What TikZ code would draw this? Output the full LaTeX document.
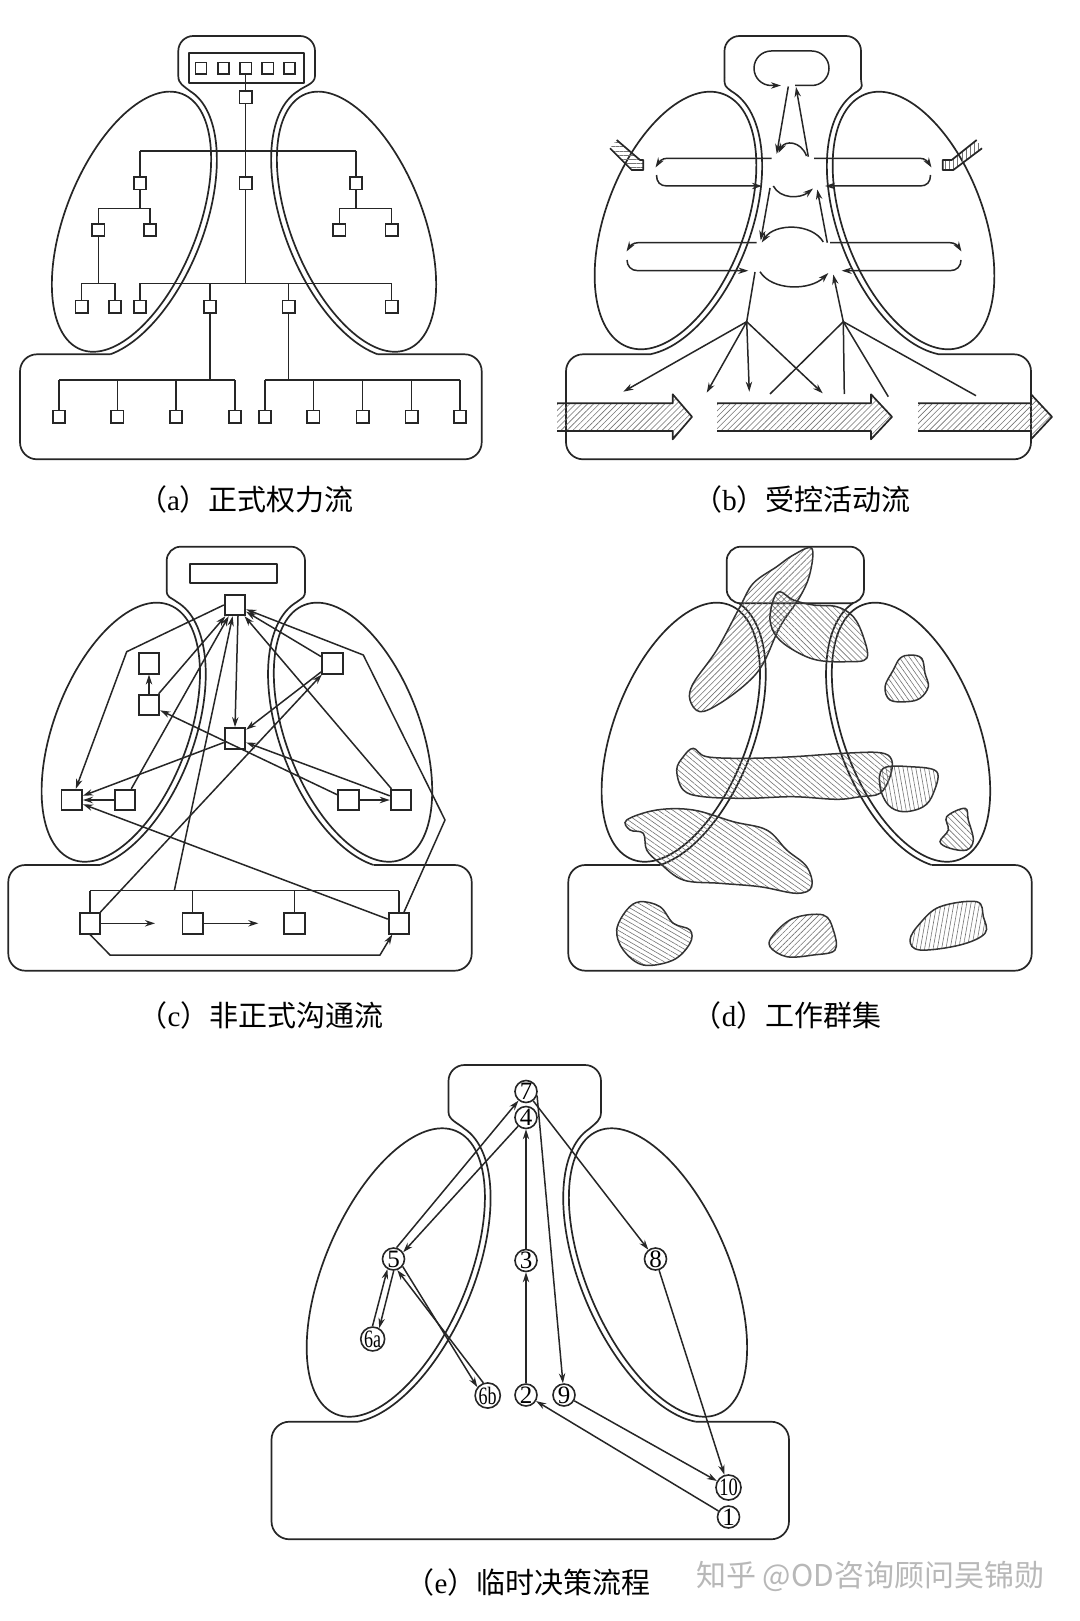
\documentclass[tikz,border=0pt]{standalone}
\usepackage{fontspec}
\setmainfont{Liberation Serif}
\newfontfamily\cjk{Noto Sans CJK SC}
\usetikzlibrary{arrows.meta,patterns.meta,calc}

\newcommand\Frame[1]{%
  \pgfmathsetmacro\FA{\FeA+6}%
  \pgfmathsetmacro\FB{\FeB+6}%
  \pgfmathsetmacro\FePR{180-\FeP}%
  \draw[outl, rotate around={\FeP:(\FeX,\FeY)}] (\FeX,\FeY) ellipse [x radius=\FeA, y radius=\FeB];
  \draw[outl, rotate around={\FePR:(\FeRX,\FeY)}] (\FeRX,\FeY) ellipse [x radius=\FeA, y radius=\FeB];
  \pgfmathsetmacro\Fsx{\FA*cos(\FtS)*cos(\FeP)-\FB*sin(\FtS)*sin(\FeP)}%
  \pgfmathsetmacro\Fsy{-\FA*cos(\FtS)*sin(\FeP)-\FB*sin(\FtS)*cos(\FeP)}%
  \pgfmathsetmacro\Ftb{\FtS-8}%
  \pgfmathsetmacro\Fbx{\FA*cos(\Ftb)*cos(\FeP)-\FB*sin(\Ftb)*sin(\FeP)}%
  \pgfmathsetmacro\Fby{-\FA*cos(\Ftb)*sin(\FeP)-\FB*sin(\Ftb)*cos(\FeP)}%
  \pgfmathsetmacro\Fcx{1.8*\Fsx-0.8*\Fbx}%
  \pgfmathsetmacro\Fcy{1.8*\Fsy-0.8*\Fby}%
  \pgfmathsetmacro\Fex{\FA*cos(\FtE)*cos(\FeP)-\FB*sin(\FtE)*sin(\FeP)}%
  \ifnum#1=0
    \draw[outl, rounded corners=\FhR] (\FhxA,\FhS) -- (\FhxA,\FhY) -- (\FhxB,\FhY) -- (\FhxB,\FhS);
    \draw[outl] (\FhxA,\FhS) .. controls (\FhxA,\FhS+8) and ({\FeX+(\Fcx)},{\FeY+(\Fcy)}) .. ({\FeX+(\Fsx)},{\FeY+(\Fsy)})
      -- plot[domain=\FtS:\FtE, samples=60, smooth, variable=\t] ({\FeX+\FA*cos(\t)*cos(\FeP)-\FB*sin(\t)*sin(\FeP)},{\FeY-\FA*cos(\t)*sin(\FeP)-\FB*sin(\t)*cos(\FeP)});
    \draw[outl] (\FhxB,\FhS) .. controls (\FhxB,\FhS+8) and ({\FeRX-(\Fcx)},{\FeY+(\Fcy)}) .. ({\FeRX-(\Fsx)},{\FeY+(\Fsy)})
      -- plot[domain=\FtS:\FtE, samples=60, smooth, variable=\t] ({\FeRX-\FA*cos(\t)*cos(\FeP)+\FB*sin(\t)*sin(\FeP)},{\FeY-\FA*cos(\t)*sin(\FeP)-\FB*sin(\t)*cos(\FeP)});
  \else
    \draw[outl, rounded corners=\FhR] (\FhxA,\FhY) rectangle (\FhxB,\FhS);
    \draw[outl] plot[domain=\FtS:\FtE, samples=60, smooth, variable=\t] ({\FeX+\FA*cos(\t)*cos(\FeP)-\FB*sin(\t)*sin(\FeP)},{\FeY-\FA*cos(\t)*sin(\FeP)-\FB*sin(\t)*cos(\FeP)});
    \draw[outl] plot[domain=\FtS:\FtE, samples=60, smooth, variable=\t] ({\FeRX-\FA*cos(\t)*cos(\FeP)+\FB*sin(\t)*sin(\FeP)},{\FeY-\FA*cos(\t)*sin(\FeP)-\FB*sin(\t)*cos(\FeP)});
  \fi
  \draw[outl, rounded corners=\FbR] ({\FeX+(\Fex)},\FbyA) -- (\FbxA,\FbyA) -- (\FbxA,\FbyB) -- (\FbxB,\FbyB) -- (\FbxB,\FbyA) -- ({\FeRX-(\Fex)},\FbyA);
}

\newcommand\HArrow[3]{%
  \fill[hatch=45] (#1,403.3) -- (#2,403.3) -- (#2,394.3) -- (#3,416.8) -- (#2,439.3) -- (#2,431) -- (#1,431) -- cycle;
  \draw[outl] (#1,403.3) -- (#2,403.3) -- (#2,394.3) -- (#3,416.8) -- (#2,439.3) -- (#2,431) -- (#1,431);
}

\begin{document}
\begin{tikzpicture}[x=0.5pt,y=-0.5pt,
  outl/.style={line width=0.85pt, line join=round, draw=black!85},
  conn/.style={line width=0.75pt, draw=black!85},
  arr/.style={conn, -{Stealth[length=5pt,width=3.2pt]}},
  sqa/.style={draw=black!85, fill=white, line width=0.8pt, minimum size=6.2pt, inner sep=0pt},
  sqc/.style={draw=black!85, fill=white, line width=0.9pt, minimum size=10.3pt, inner sep=0pt},
  circnode/.style={circle, draw=black!85, fill=white, line width=0.8pt, minimum size=11pt, inner sep=0pt, font=\fontsize{12.5}{12.5}\selectfont},
  captxt/.style={font=\fontsize{14.5}{16}\selectfont},
  hatch/.style={pattern={Lines[angle=#1, distance=2.1pt, line width=0.3pt]}, pattern color=black!55},
  blob/.style={line width=0.75pt, draw=black!80},
]
\useasboundingbox (0,0) rectangle (1080,1621);
\fill[white] (0,0) rectangle (1080,1621);

%================ (a) =================
\def\FhxA{178.3}\def\FhxB{315}\def\FhY{36}\def\FhS{76}\def\FhR{7.5pt}
\def\FbxA{20}\def\FbxB{481.7}\def\FbyA{354.3}\def\FbyB{459.3}\def\FbR{8.5pt}
\def\FeX{131.5}\def\FeY{221.7}\def\FeA{137.5}\def\FeB{66}\def\FeP{68.3}\def\FeRX{356.5}
\def\FtS{-5}\def\FtE{-156}
\Frame{0}
\draw[outl] (189,53.3) rectangle (304.3,83.3);
\foreach \i/\x in {1/201,2/223.3,3/245.7,4/267.7,5/289.3}
  \node[sqa, minimum size=5.6pt] (a\i) at (\x,68.3) {};
\node[sqa] (a0) at (245.7,97.3) {};
\node[sqa] (aL) at (140,183.3) {};
\node[sqa] (aC) at (245.7,183.3) {};
\node[sqa] (aR) at (356,183.3) {};
\node[sqa] (aL1) at (98.3,230) {};
\node[sqa] (aL2) at (150,230) {};
\node[sqa] (aR1) at (339.3,230) {};
\node[sqa] (aR2) at (391.7,230) {};
\node[sqa] (aLL1) at (81.7,306.7) {};
\node[sqa] (aLL2) at (115,306.7) {};
\node[sqa] (ab1) at (140,306.7) {};
\node[sqa] (ab2) at (210,306.7) {};
\node[sqa] (ab3) at (288.7,306.7) {};
\node[sqa] (ab4) at (391.7,306.7) {};
\foreach \i/\x in {1/59,2/117.3,3/176,4/235}
  \node[sqa] (ac\i) at (\x,416.7) {};
\foreach \i/\x in {1/265,2/313.3,3/362.7,4/411.7,5/460}
  \node[sqa] (ad\i) at (\x,416.7) {};
\coordinate (yU) at (0,151);
\coordinate (yM) at (0,208.3);
\coordinate (yL) at (0,283.3);
\coordinate (yB) at (0,380);
\draw[conn] (a3) -- (a0);
\draw[conn] (a0) -- (aC);
\draw[conn] (aC) -- (aC |- yL);
\draw[conn] (aL |- yU) -- (aR |- yU);
\draw[conn] (aL |- yU) -- (aL);
\draw[conn] (aR |- yU) -- (aR);
\draw[conn] (aL) -- (aL |- yM);
\draw[conn] (aL1 |- yM) -- (aL2 |- yM);
\draw[conn] (aL1 |- yM) -- (aL1);
\draw[conn] (aL2 |- yM) -- (aL2);
\draw[conn] (aR) -- (aR |- yM);
\draw[conn] (aR1 |- yM) -- (aR2 |- yM);
\draw[conn] (aR1 |- yM) -- (aR1);
\draw[conn] (aR2 |- yM) -- (aR2);
\draw[conn] (aL1) -- (aL1 |- yL);
\draw[conn] (aLL1 |- yL) -- (aLL2 |- yL);
\draw[conn] (aLL1 |- yL) -- (aLL1);
\draw[conn] (aLL2 |- yL) -- (aLL2);
\draw[conn] (ab1 |- yL) -- (ab4 |- yL);
\foreach \n in {ab1,ab2,ab3,ab4} \draw[conn] (\n |- yL) -- (\n);
\draw[conn] (ab2) -- (ab2 |- yB);
\draw[conn] (ac1 |- yB) -- (ac4 |- yB);
\foreach \n in {ac1,ac2,ac3,ac4} \draw[conn] (\n |- yB) -- (\n);
\draw[conn] (ab3) -- (ab3 |- yB);
\draw[conn] (ad1 |- yB) -- (ad5 |- yB);
\foreach \n in {ad1,ad2,ad3,ad4,ad5} \draw[conn] (\n |- yB) -- (\n);
\node[captxt] (capa) at (246,499) {{\cjk （}a{\cjk ）正式权力流}};

%================ (b) =================
\def\FhxA{724.5}\def\FhxB{861}\def\FhY{36}\def\FhS{78}\def\FhR{7.5pt}
\def\FbxA{566}\def\FbxB{1031}\def\FbyA{354.3}\def\FbyB{459.3}\def\FbR{8.5pt}
\def\FeX{675.5}\def\FeY{220.5}\def\FeA{135.2}\def\FeB{69.6}\def\FeP{69.2}\def\FeRX{913.5}
\def\FtS{-5}\def\FtE{-161}
\Frame{0}
% stadium loop
\draw[arr] (795,85.5) [rounded corners=8.6pt] -- (829,85.5) -- (829,51) -- (754,51) -- (754,85.5) [sharp corners] -- (781,85.5);
\draw[arr] (788.3,86.5) -- (776.7,154);
\draw[arr] (808.3,156.7) -- (796,87);
% upper level
\draw[arr] (806.5,156) .. controls (801,141) and (785,140) .. (778.5,153);
\draw[arr] (773.3,186) .. controls (780,199) and (800,199) .. (813,188.5);
\draw[arr] (770,188) -- (760.7,240.5);
\draw[arr] (827.3,242.7) -- (817.3,189.5);
\draw[arr] (771.7,158.3) -- (667,158.3) .. controls (662,158.3) and (659,162) .. (655.5,167.5);
\draw[arr] (656.5,175) .. controls (656.5,182) and (660,186) .. (667,186) -- (762,186);
\draw[arr] (814,158.3) -- (920,158.3) .. controls (925,158.3) and (928,162) .. (931.5,167.5);
\draw[arr] (930.5,175) .. controls (930.5,182) and (927,186) .. (920,186) -- (825,186);
% lower level
\draw[arr] (823.3,242) .. controls (812,223) and (775,223) .. (761.7,242.5);
\draw[arr] (760,271.7) .. controls (772,291) and (810,291) .. (828.3,273);
\draw[arr] (756.7,242.7) -- (638,242.7) .. controls (633,242.7) and (630,246) .. (626.5,251.5);
\draw[arr] (627,260) .. controls (627,266) and (631,270.7) .. (638,270.7) -- (748.3,270.7);
\draw[arr] (830,242.7) -- (950,242.7) .. controls (955,242.7) and (958,246) .. (961.5,251.5);
\draw[arr] (961,260) .. controls (961,266) and (957,270.7) .. (950,270.7) -- (841.7,270.7);
% fans
\coordinate (F1) at (746.7,321.7);
\coordinate (F2) at (843.3,321.7);
\draw[conn] (755,272) -- (F1);
\draw[arr] (F2) -- (833.3,274.5);
\draw[arr] (F1) -- (623.3,391.7);
\draw[arr] (F1) -- (706.7,392.7);
\draw[arr] (F1) -- (749.3,391.7);
\draw[arr] (F1) -- (822.7,393.3);
\draw[conn] (770,394) -- (F2);
\draw[conn] (844.3,394) -- (F2);
\draw[conn] (888.3,396.7) -- (F2);
\draw[conn] (976,395.7) -- (F2);
% hatched arrows
\HArrow{557}{672.7}{692}
\HArrow{717}{871}{892}
\HArrow{918}{1031}{1052}
% small hatched inputs
\fill[hatch=0] (610,148.3) -- (616.7,140) -- (640,160) -- (643.3,160) -- (643.3,170) -- (631.7,170) -- cycle;
\draw[outl] (616.7,140) -- (640,160) -- (643.3,160) -- (643.3,170) -- (631.7,170) -- (610,148.3);
\fill[hatch=90] (982,148.3) -- (976.7,140) -- (951.7,160) -- (942.7,160) -- (942.7,170) -- (953.3,170) -- cycle;
\draw[outl] (976.7,140) -- (951.7,160) -- (942.7,160) -- (942.7,170) -- (953.3,170) -- (982,148.3);
\node[captxt] (capb) at (802,499) {{\cjk （}b{\cjk ）受控活动流}};

%================ (c) =================
\def\FhxA{166.7}\def\FhxB{305}\def\FhY{546.7}\def\FhS{590}\def\FhR{7pt}
\def\FbxA{8.3}\def\FbxB{471.7}\def\FbyA{865}\def\FbyB{970.7}\def\FbR{8.5pt}
\def\FeX{120.8}\def\FeY{732.2}\def\FeA{136.2}\def\FeB{67.1}\def\FeP{69.2}\def\FeRX{353}
\def\FtS{-5}\def\FtE{-157.5}
\Frame{0}
\draw[outl] (190,564.3) rectangle (276.7,582.7);
\node[sqc] (cT) at (235,605) {};
\node[sqc] (cM) at (235,738.3) {};
\node[sqc] (cL1) at (149,663.3) {};
\node[sqc] (cL2) at (149,705) {};
\node[sqc] (cR1) at (332.3,663.3) {};
\node[sqc] (cLL1) at (71.7,800) {};
\node[sqc] (cLL2) at (125,800) {};
\node[sqc] (cRR1) at (348.3,800) {};
\node[sqc] (cRR2) at (401,800) {};
\node[sqc] (cB1) at (90,923.3) {};
\node[sqc] (cB2) at (192.7,923.3) {};
\node[sqc] (cB3) at (294.3,923.3) {};
\node[sqc] (cB4) at (399,923.3) {};
\coordinate (cy) at (0,890.7);
\coordinate (cbus) at (174.3,890.7);
\draw[conn] (cB1 |- cy) -- (cB4 |- cy);
\foreach \n in {cB1,cB2,cB3,cB4} \draw[conn] (\n |- cy) -- (\n);
\draw[arr] (cbus) -- (cT);
\draw[arr] (cT.west) -- (126.7,651.7) -- (cLL1);
\draw[arr] (cL2) -- (cT);
\draw[arr] (cLL2) -- (cT);
\draw[arr] (cT.-75) -- (cM.north);
\draw[arr] (cR1) -- (cT);
\draw[arr] (cRR2) -- (cT);
\draw[arr] (cB4) -- (445,820) -- (363.3,655) -- (cT);
\draw[arr] (cR1) -- (cM);
\draw[arr] (cM) -- (cLL1);
\draw[arr] (cLL2) -- (cLL1);
\draw[arr] (cRR1) -- (cRR2);
\draw[arr] (cL2) -- (cL1);
\draw[arr] (cRR2) -- (cM);
\draw[arr] (cRR1) -- (cL2);
\draw[arr] (cB1) -- (cR1);
\draw[arr] (cB4) -- (cLL1);
\coordinate (cq1) at (155,923.3);
\coordinate (cq2) at (258.3,923.3);
\draw[arr] (cB1) -- (cq1);
\draw[arr] (cB2) -- (cq2);
\draw[arr] (cB1.south) -- (110,955) -- (380,955) -- (cB4);
\node[captxt] (capc) at (261,1015) {{\cjk （}c{\cjk ）非正式沟通流}};

%================ (d) =================
\def\FhxA{726.7}\def\FhxB{864}\def\FhY{546.7}\def\FhS{603.3}\def\FhR{7pt}
\def\FbxA{568.3}\def\FbxB{1031.7}\def\FbyA{865}\def\FbyB{970.7}\def\FbR{8.5pt}
\def\FeX{680.8}\def\FeY{732.2}\def\FeA{136.2}\def\FeB{67.1}\def\FeP{69.2}\def\FeRX{911}
\def\FtS{-6.5}\def\FtE{-157.5}
\Frame{1}
\draw[blob, hatch=45] plot[smooth cycle, tension=0.6] coordinates {(811.7,548.3) (810,573.3) (800,596.7) (780,626.7) (763.3,663.3) (746.7,683.3) (720,703.3) (700,711.7) (690,700) (693.3,683.3) (716.7,650) (740,606.7) (753.3,583.3) (776.7,566.7) (793.3,555)};
\draw[blob, hatch=135] plot[smooth cycle, tension=0.6] coordinates {(780,591.7) (793.3,600) (813.3,605) (836.7,606.7) (853.3,616.7) (863.3,636.7) (866.7,658.3) (846.7,661.7) (816.7,660) (793.3,650) (776.7,636.7) (770,620) (773.3,600)};
\draw[blob, hatch=125] plot[smooth cycle, tension=0.6] coordinates {(910,655) (921.7,658.3) (925,673.3) (928.3,686.7) (920,698.3) (906.7,701.7) (890,700) (885,686.7) (893.3,670) (900,658.3)};
\draw[blob, hatch=140] plot[smooth cycle, tension=0.6] coordinates {(693.3,748.3) (706.7,756.7) (746.7,758.3) (793.3,756.7) (843.3,753.3) (880,752.7) (891.7,760) (890,776.7) (880,793.3) (860,796.7) (836.7,799.3) (793.3,796.7) (746.7,798.3) (703.3,796.7) (683.3,790) (676.7,770) (683.3,756.7)};
\draw[blob, hatch=100] plot[smooth cycle, tension=0.6] coordinates {(883.3,768.3) (910,766.7) (936.7,771.7) (933.3,793.3) (923.3,806.7) (903.3,811.7) (888.3,805) (880,786.7)};
\draw[blob, hatch=135] plot[smooth cycle, tension=0.6] coordinates {(965,808.3) (968.3,820) (973.3,840) (966.7,850) (950,848.3) (940,841.7) (948.3,830) (946.7,816.7)};
\draw[blob, hatch=145] plot[smooth cycle, tension=0.6] coordinates {(626.7,820) (656.7,810) (693.3,810) (733.3,821.7) (766.7,830) (786.7,850) (806.7,866.7) (811.7,886.7) (796.7,893.3) (760,886.7) (720,883.3) (683.3,880) (660,863.3) (646.7,850) (643.3,833.3) (630,830)};
\draw[blob, hatch=150] plot[smooth cycle, tension=0.6] coordinates {(640,901.7) (660,906.7) (673.3,923.3) (690,930) (690,943.3) (673.3,960) (643.3,965) (623.3,950) (616.7,930) (626.7,910)};
\draw[blob, hatch=45] plot[smooth cycle, tension=0.6] coordinates {(793.3,918.3) (823.3,915) (833.3,930) (835,950) (813.3,955) (786.7,956.7) (770,946.7) (773.3,935)};
\draw[blob, hatch=80] plot[smooth cycle, tension=0.6] coordinates {(940,906.7) (976.7,901.7) (983.3,916.7) (985,933.3) (960,945) (920,950) (910,940) (920,923.3)};
\node[captxt] (capd) at (787,1015) {{\cjk （}d{\cjk ）工作群集}};

%================ (e) =================
\def\FhxA{448.5}\def\FhxB{601}\def\FhY{1065}\def\FhS{1112}\def\FhR{8pt}
\def\FbxA{271.5}\def\FbxB{789}\def\FbyA{1421.7}\def\FbyB{1539.3}\def\FbR{9pt}
\def\FeX{395.8}\def\FeY{1272.5}\def\FeA{153.8}\def\FeB{71.3}\def\FeP{66.9}\def\FeRX{658}
\def\FtS{-5}\def\FtE{-162}
\Frame{0}
\node[circnode] (e7) at (526,1091.5) {7};
\node[circnode] (e4) at (526,1117.5) {4};
\node[circnode] (e5) at (393.5,1259) {5};
\node[circnode] (e3) at (526,1260.5) {3};
\node[circnode] (e8) at (655.5,1259) {8};
\node[circnode] (e6a) at (372.7,1339) {\scalebox{0.72}[1]{6a}};
\node[circnode] (e6b) at (487.7,1395.5) {\scalebox{0.72}[1]{6b}};
\node[circnode] (e2) at (526,1395) {2};
\node[circnode] (e9) at (564,1395) {9};
\node[circnode] (e10) at (728.5,1487.5) {\scalebox{0.74}[1]{10}};
\node[circnode] (e1) at (728.5,1517) {1};
\draw[arr] (e2) -- (e3);
\draw[arr] (e3) -- (e4);
\draw[arr] (e5.75) -- (e7);
\draw[arr] (e4) -- (e5.35);
\draw[arr] (e6a.91) -- (e5.239);
\draw[arr] (e5.271) -- (e6a.59);
\draw[arr] (e5.-39) -- (e6b.141);
\draw[arr] (e6b.109) -- (e5.-71);
\draw[arr] (e7.-20) -- (e9);
\draw[arr] (e7) -- (e8);
\draw[arr] (e8) -- (e10);
\draw[arr] (e9) -- (e10);
\draw[arr] (e1) -- (e2);
\node[captxt] (cape) at (528,1582) {{\cjk （}e{\cjk ）临时决策流程}};
\node[font=\cjk\fontsize{15}{15}\selectfont, text=black!28] (wm) at (870,1576) {知乎 @OD咨询顾问吴锦勋};
\end{tikzpicture}
\end{document}
